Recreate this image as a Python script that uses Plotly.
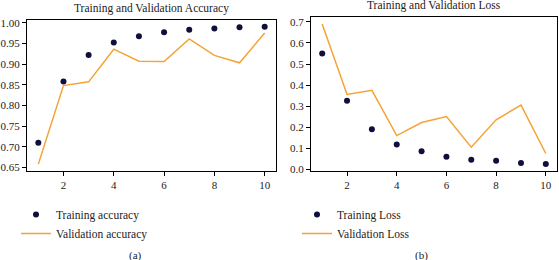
import plotly.graph_objects as go

epochs = [1, 2, 3, 4, 5, 6, 7, 8, 9, 10]
train_acc = [0.710, 0.858, 0.922, 0.952, 0.967, 0.977, 0.983, 0.986, 0.989, 0.990]
val_acc = [0.658, 0.848, 0.857, 0.936, 0.907, 0.906, 0.961, 0.921, 0.903, 0.975]
train_loss = [0.550, 0.325, 0.190, 0.118, 0.085, 0.060, 0.045, 0.040, 0.030, 0.025]
val_loss = [0.690, 0.355, 0.375, 0.160, 0.222, 0.250, 0.105, 0.235, 0.305, 0.075]

W, H = 559, 260
DOT = "#0f0f3d"
ORANGE = "#f4a335"
FONT = "Liberation Serif"

def px(x):
    return x / W

def py(y):
    return 1 - y / H

fig = go.Figure()
fig.add_trace(go.Scatter(x=epochs, y=train_acc, mode="markers", name="Training accuracy",
                         marker=dict(color=DOT, size=6), xaxis="x", yaxis="y", legend="legend"))
fig.add_trace(go.Scatter(x=epochs, y=val_acc, mode="lines", name="Validation accuracy",
                         line=dict(color=ORANGE, width=1.5), xaxis="x", yaxis="y", legend="legend"))
fig.add_trace(go.Scatter(x=epochs, y=train_loss, mode="markers", name="Training Loss",
                         marker=dict(color=DOT, size=6), xaxis="x2", yaxis="y2", legend="legend2"))
fig.add_trace(go.Scatter(x=epochs, y=val_loss, mode="lines", name="Validation Loss",
                         line=dict(color=ORANGE, width=1.5), xaxis="x2", yaxis="y2", legend="legend2"))

axis_common = dict(showline=True, linecolor="black", linewidth=1, mirror=True,
                   ticks="outside", ticklen=4, tickcolor="black", showgrid=False,
                   zeroline=False, automargin=False,
                   tickfont=dict(family=FONT, size=11, color="#222"))

fig.update_layout(
    width=W, height=H,
    margin=dict(l=0, r=0, t=0, b=0, autoexpand=False),
    paper_bgcolor="white", plot_bgcolor="white",
    font=dict(family=FONT, size=11, color="#222"),
    xaxis=dict(domain=[px(27), px(276)], range=[0.55, 10.45], tickvals=[2, 4, 6, 8, 10],
               anchor="y", **axis_common),
    yaxis=dict(domain=[py(171), py(20)], range=[0.6414, 1.0066], dtick=0.05, tickformat=".2f",
               anchor="x", **axis_common),
    xaxis2=dict(domain=[px(311), px(557)], range=[0.55, 10.45], tickvals=[2, 4, 6, 8, 10],
                anchor="y2", **axis_common),
    yaxis2=dict(domain=[py(171), py(17)], range=[-0.00825, 0.72325], dtick=0.1, tickformat=".1f",
                anchor="x2", **axis_common),
    legend=dict(x=px(16), y=py(200), xanchor="left", yanchor="top",
                font=dict(family=FONT, size=11.5, color="#222"), bgcolor="rgba(0,0,0,0)",
                tracegroupgap=0, itemwidth=30),
    legend2=dict(x=px(297), y=py(200), xanchor="left", yanchor="top",
                 font=dict(family=FONT, size=11.5, color="#222"), bgcolor="rgba(0,0,0,0)",
                 tracegroupgap=0, itemwidth=30),
    annotations=[
        dict(text="Training and Validation Accuracy", x=px(151), y=py(8), xref="paper", yref="paper",
             xanchor="center", yanchor="middle",
             showarrow=False, font=dict(family=FONT, size=11.5, color="#222")),
        dict(text="Training and Validation Loss", x=px(434), y=py(5), xref="paper", yref="paper",
             xanchor="center", yanchor="middle",
             showarrow=False, font=dict(family=FONT, size=11.5, color="#222")),
        dict(text="(a)", x=px(135), y=py(255), xref="paper", yref="paper",
             xanchor="center", yanchor="middle",
             showarrow=False, font=dict(family=FONT, size=11, color="#222")),
        dict(text="(b)", x=px(421), y=py(255), xref="paper", yref="paper",
             xanchor="center", yanchor="middle",
             showarrow=False, font=dict(family=FONT, size=11, color="#222")),
    ],
)

fig.write_html("out.html", config={"displayModeBar": False},
               post_script="document.body.style.margin='0';document.body.style.overflow='hidden';")
